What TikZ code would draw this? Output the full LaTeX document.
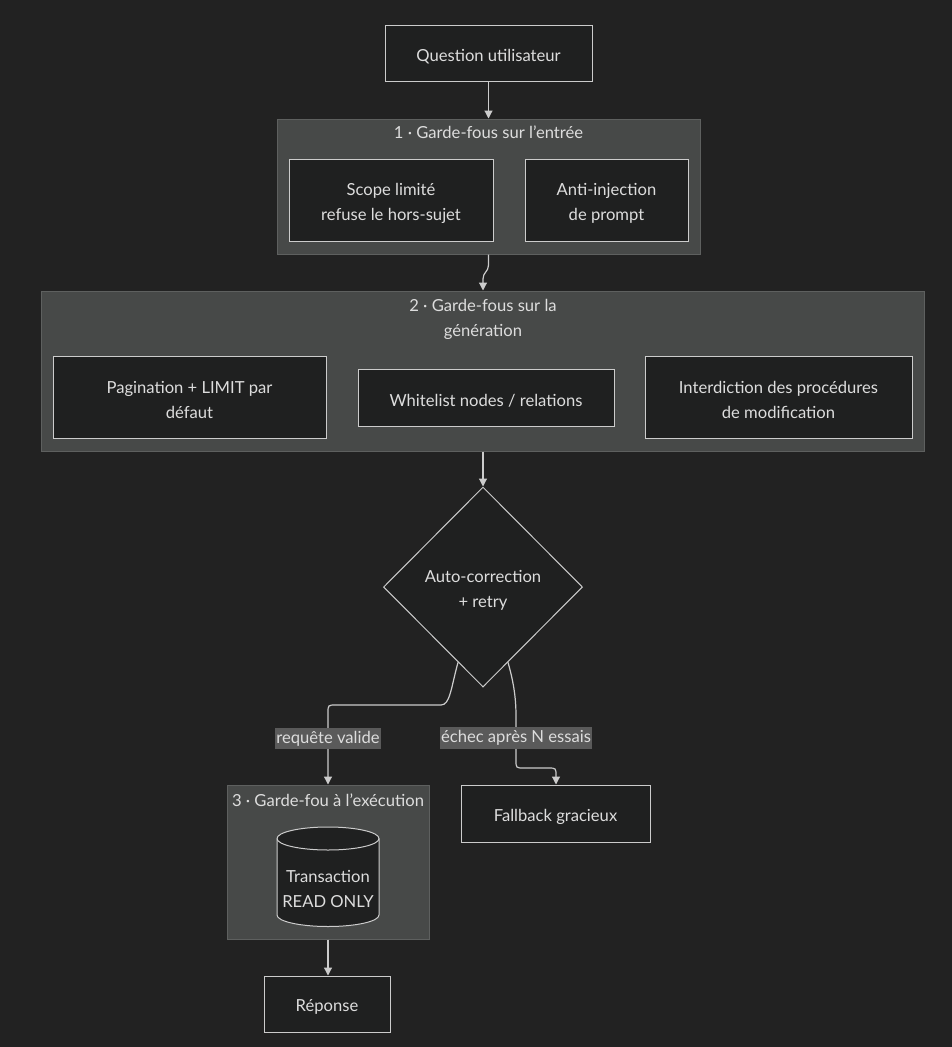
\documentclass[tikz,border=0pt]{standalone}
\usepackage{fontspec}
\setmainfont{Lato}
\usetikzlibrary{shapes.geometric,arrows.meta,calc}
\definecolor{bg}{HTML}{222222}
\definecolor{clfill}{HTML}{474948}
\definecolor{clline}{HTML}{5E605F}
\definecolor{nfill}{HTML}{1F2020}
\definecolor{nline}{HTML}{CCCCCC}
\definecolor{txt}{HTML}{DDDDDD}
\definecolor{lblfill}{HTML}{5A5A5A}
\newcommand{\lowstrut}{\rule{0pt}{18.5pt}}
\begin{document}
\begin{tikzpicture}[x=1pt,y=-1pt,
  box/.style={draw=nline, fill=nfill, line width=1pt, text=txt, align=center, inner sep=0pt,
    font=\fontsize{16.6}{25}\selectfont},
  cluster/.style={draw=clline, fill=clfill, line width=1pt, inner sep=0pt},
  ctitle/.style={text=txt, align=center, inner sep=0pt, font=\fontsize{16.6}{25}\selectfont},
  edge/.style={draw=nline, line width=1.2pt, -{Triangle[length=8pt,width=8pt]}},
  elabel/.style={fill=lblfill, text=txt, inner xsep=1pt, inner ysep=3pt, font=\fontsize{16.6}{20}\selectfont},
  cyl/.style={draw=nline, fill=nfill, line width=1pt}]
\fill[bg] (0,0) rectangle (952,1047);
\useasboundingbox (0,0) rectangle (952,1047);

% top node
\node[box, minimum width=207, minimum height=56] (q) at (488.5,53) {\lowstrut Question utilisateur};

% cluster 1
\node[cluster, minimum width=423, minimum height=135] (c1) at (488.5,186.5) {};
\node[ctitle] (t1) at (488.5,132.5) {1 · Garde-fous sur l'entrée};
\node[box, minimum width=204, minimum height=82] (scope) at (391,200) {\lowstrut Scope limité\\refuse le hors-sujet};
\node[box, minimum width=163, minimum height=82] (anti) at (606.5,200) {\lowstrut Anti-injection\\de prompt};

% cluster 2
\node[cluster, minimum width=883, minimum height=160] (c2) at (482.5,371) {};
\node[ctitle] (t2) at (483,319) {2 · Garde-fous sur la\\génération};
\node[box, minimum width=273, minimum height=82] (pag) at (189.5,397) {\lowstrut Pagination + LIMIT par\\défaut};
\node[box, minimum width=256, minimum height=57] (white) at (486,397.5) {\lowstrut Whitelist nodes / relations};
\node[box, minimum width=267, minimum height=82] (inter) at (778.5,397) {\lowstrut Interdiction des procédures\\de modification};

% decision
\node[box, diamond, minimum width=199, minimum height=200] (dia) at (483,587) {\lowstrut Auto-correction\\+ retry};

% cluster 3
\node[cluster, minimum width=202, minimum height=154] (c3) at (328,862) {};
\node[ctitle] (t3) at (328,800) {3 · Garde-fou à l'exécution};
\node[inner sep=0pt, minimum width=102, minimum height=100] (db) at (328,876) {};
\begin{scope}[shift={(db.center)}]
  \draw[cyl] (-51,-37.5) -- (-51,39) arc[start angle=180, end angle=0, x radius=51, y radius=11.5]
    -- (51,-37.5) arc[start angle=0, end angle=-180, x radius=51, y radius=11.5] -- cycle;
  \draw[cyl, fill=none] (-51,-37.5) arc[start angle=180, end angle=0, x radius=51, y radius=11.5];
\end{scope}
\node[ctitle, text=txt] (dbt) at (328,888.5) {Transaction\\READ ONLY};

\node[box, minimum width=189, minimum height=57] (fb) at (555.5,813.5) {\lowstrut Fallback gracieux};
\node[box, minimum width=126, minimum height=56] (rep) at (327,1004) {\lowstrut Réponse};

% edges
\draw[edge] (q.south) -- (c1.north);
\coordinate (k1) at (488.5,265);
\coordinate (k2) at (483,279);
\draw[edge] (c1.south) -- (k1) .. controls (488.5,272) and (483,272) .. (k2) -- (k2 |- c2.north);
\draw[edge] (c2.south -| dia.north) -- (dia.north);

\coordinate (ls) at ($(dia.west)!0.75!(dia.south)$);
\coordinate (l1) at (441,705);
\coordinate (l2) at (336,705);
\coordinate (l3) at (328,713);
\draw[edge] (ls) .. controls (451,688) and (450,705) .. (l1) -- (l2) .. controls (328,705) .. (l3)
  -- node[elabel, pos=0.36] (lv) {requête valide} (l3 |- c3.north);

\coordinate (rs) at ($(dia.east)!0.75!(dia.south)$);
\coordinate (r1) at (516,716);
\coordinate (r2) at (516,760);
\coordinate (r3) at (524,768);
\coordinate (r4) at (548,768);
\coordinate (r5) at (556,776);
\draw[edge] (rs) .. controls (513,680) and (516,696) .. (r1)
  -- node[elabel, pos=0.5] (le) {échec après N essais} (r2)
  .. controls (516,768) .. (r3) -- (r4) .. controls (556,768) .. (r5) -- (r5 |- fb.north);

\draw[edge] (c3.south) -- (c3.south |- rep.north);
\end{tikzpicture}
\end{document}
